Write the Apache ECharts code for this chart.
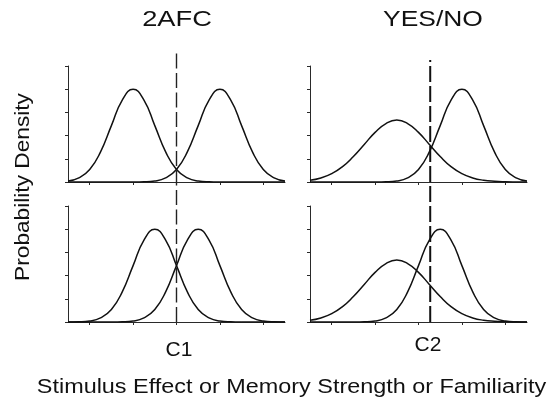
<!DOCTYPE html>
<html><head><meta charset="utf-8">
<script src="https://cdn.jsdelivr.net/npm/echarts@6/dist/echarts.min.js"></script>
<style>html,body{margin:0;padding:0;background:#fff}#c{width:559px;height:403px}</style>
</head><body><div id="c"></div>
<script>
// x positions (units of the stimulus axis; ticks at integers)
const xs = [-2.5,-2.25,-2,-1.75,-1.5,-1.25,-1,-0.75,-0.5,-0.25,0,0.25,0.5,0.75,1,1.25,1.5,1.75,2,2.25,2.5];
const xTicks = [-2,-1,0,1,2];
// densities (y axis 0..5)
const afcTopLure      = [0.044,0.18,0.54,1.30,2.43,3.53,4.00,3.53,2.43,1.30,0.54,0.18,0.044,0.009,0.001,0,0,0,0,0,0];
const afcTopTarget    = [0,0,0,0,0,0,0.001,0.009,0.044,0.18,0.54,1.30,2.43,3.53,4.00,3.53,2.43,1.30,0.54,0.18,0.044];
const afcBottomLure   = [0.001,0.009,0.044,0.18,0.54,1.30,2.43,3.53,4.00,3.53,2.43,1.30,0.54,0.18,0.044,0.009,0.001,0,0,0,0];
const afcBottomTarget = [0,0,0,0,0.001,0.009,0.044,0.18,0.54,1.30,2.43,3.53,4.00,3.53,2.43,1.30,0.54,0.18,0.044,0.009,0.001];
const ynTopLure       = [0.076,0.175,0.36,0.66,1.10,1.62,2.14,2.52,2.67,2.52,2.14,1.62,1.10,0.66,0.36,0.175,0.076,0.030,0.010,0.003,0.001];
const ynTopTarget     = [0,0,0,0,0,0,0.001,0.009,0.044,0.18,0.54,1.30,2.43,3.53,4.00,3.53,2.43,1.30,0.54,0.18,0.044];
const ynBottomLure    = [0.076,0.175,0.36,0.66,1.10,1.62,2.14,2.52,2.67,2.52,2.14,1.62,1.10,0.66,0.36,0.175,0.076,0.030,0.010,0.003,0.001];
const ynBottomTarget  = [0,0,0,0,0.001,0.009,0.044,0.18,0.54,1.30,2.43,3.53,4.00,3.53,2.43,1.30,0.54,0.18,0.044,0.009,0.001];
const criteria = [0, 0.27];          // C1, C2 positions
const criterionLabels = ['C1','C2'];
const panelTitles = ['2AFC','YES/NO'];
const yLabel = 'Probability Density';
const xLabel = 'Stimulus Effect or Memory Strength or Familiarity';

const FONT = '"Liberation Sans", Arial, Helvetica, sans-serif';
const INK = '#111';
const AX = '#2a2a2a';

const pair = ys => xs.map((x, i) => [x, ys[i]]);

const panelGrids = [
  {left: 68,  top: 66,  width: 217, height: 116},
  {left: 68,  top: 206, width: 217, height: 116},
  {left: 310, top: 66,  width: 217, height: 116},
  {left: 310, top: 206, width: 217, height: 116}
];
const dashGrids = [
  {left: 68,  top: 53, width: 217, height: 269},
  {left: 310, top: 60, width: 217, height: 262}
];

const grid = panelGrids.concat(dashGrids);
const xAxis = [], yAxis = [];
panelGrids.forEach((g, i) => {
  xAxis.push({type:'value', gridIndex:i, min:-2.5, max:2.5, position:'bottom',
    axisLine:{show:true, onZero:false, lineStyle:{color:AX, width:1}},
    axisTick:{show:true, inside:false, length:3, customValues:xTicks, lineStyle:{color:AX, width:1}},
    axisLabel:{show:false}, splitLine:{show:false}});
  yAxis.push({type:'value', gridIndex:i, min:0, max:5, interval:1, position:'left',
    axisLine:{show:true, onZero:false, lineStyle:{color:AX, width:1}},
    axisTick:{show:true, inside:false, length:3, lineStyle:{color:AX, width:1}},
    axisLabel:{show:false}, splitLine:{show:false}});
});
dashGrids.forEach((g, j) => {
  const i = panelGrids.length + j;
  xAxis.push({type:'value', gridIndex:i, min:-2.5, max:2.5, show:false});
  yAxis.push({type:'value', gridIndex:i, min:0, max:1, show:false});
});

const curve = (ys, idx) => ({
  type:'line', xAxisIndex:idx, yAxisIndex:idx, data:pair(ys),
  smooth:0.5, showSymbol:false, symbol:'none', silent:true,
  lineStyle:{color:INK, width:1.5}
});

const series = [
  curve(afcTopLure,0), curve(afcTopTarget,0),
  curve(afcBottomLure,1), curve(afcBottomTarget,1),
  curve(ynTopLure,2), curve(ynTopTarget,2),
  curve(ynBottomLure,3), curve(ynBottomTarget,3),
  {type:'line', xAxisIndex:4, yAxisIndex:4, data:[[criteria[0],0],[criteria[0],1]],
   showSymbol:false, symbol:'none', silent:true,
   lineStyle:{color:'#222', width:1.4, type:[15,4.5]}},
  {type:'line', xAxisIndex:5, yAxisIndex:5, data:[[criteria[1],0],[criteria[1],1]],
   showSymbol:false, symbol:'none', silent:true,
   lineStyle:{color:'#111', width:2, type:[16,4]}}
];

const txt = (text, x, y, size, sx, rot) => ({
  type:'text', x:x, y:y, scaleX:sx || 1, rotation:rot || 0, silent:true,
  style:{text:text, fill:INK, font:size + 'px ' + FONT, align:'center', verticalAlign:'middle'}
});

const graphic = [
  txt(panelTitles[0], 177, 20, 22, 1.24),
  txt(panelTitles[1], 433, 20, 22, 1.2),
  txt(criterionLabels[0], 179, 350, 21),
  txt(criterionLabels[1], 428, 345, 21),
  txt(xLabel, 291.5, 387, 20, 1.17),
  txt(yLabel, 23, 187, 21, 1.08, Math.PI/2)
];

const chart = echarts.init(document.getElementById('c'), null, {renderer:'canvas'});
chart.setOption({
  animation:false,
  backgroundColor:'#fff',
  grid:grid, xAxis:xAxis, yAxis:yAxis, series:series, graphic:graphic
});
</script></body></html>
